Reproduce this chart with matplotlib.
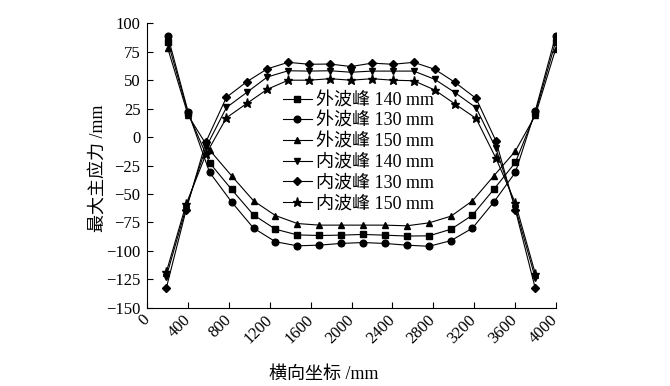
import matplotlib
matplotlib.use("Agg")
import matplotlib.pyplot as plt

plt.rcParams['font.family'] = ['Liberation Serif', 'Noto Sans CJK SC']
plt.rcParams['axes.unicode_minus'] = True

# Outer wave peak (外波峰) positions and values
x_outer = [200, 400, 610, 825, 1040, 1255, 1470, 1685, 1895, 2110, 2325, 2540,
           2760, 2975, 3185, 3395, 3605, 3800, 4000]
outer_140 = [84, 21, -22.6, -46, -68.4, -81, -86, -86.5, -86.2, -85.6, -86.2, -87,
             -86.8, -81, -68.6, -45.8, -22.3, 21, 84]
outer_130 = [89, 22, -31, -57, -80, -92, -95.6, -95, -93.5, -92.7, -93.5, -95,
             -96, -91, -80, -57, -31, 23, 89]
outer_150 = [78, 19, -11.4, -34, -56, -69, -76, -77.4, -77.4, -77.4, -77.4, -78,
             -75.4, -69.5, -56, -34, -12.3, 19, 77.5]

# Inner wave peak (内波峰) positions and values
x_inner = [185, 380, 575, 775, 975, 1175, 1380, 1585, 1790, 1995, 2200, 2405,
           2610, 2815, 3015, 3220, 3415, 3605, 3800]
inner_140 = [-123, -62, -9, 26, 39.3, 52.8, 58.3, 58, 58.3, 57, 58, 58,
             58, 50.8, 39, 25.8, -10, -62, -124]
inner_130 = [-133, -64, -4, 35, 48.7, 60, 65.7, 64, 64.2, 62, 65, 64,
             65.7, 59.6, 48, 34, -3.5, -64, -133]
inner_150 = [-119, -59, -15, 17, 29.6, 42, 50, 50, 51.3, 50, 51.3, 50,
             49.5, 41.4, 29, 16.4, -18.7, -58, -120]

labels = ['外波峰 140 mm', '外波峰 130 mm', '外波峰 150 mm',
          '内波峰 140 mm', '内波峰 130 mm', '内波峰 150 mm']
xticks = [0, 400, 800, 1200, 1600, 2000, 2400, 2800, 3200, 3600, 4000]
yticks = [100, 75, 50, 25, 0, -25, -50, -75, -100, -125, -150]

fig = plt.figure(figsize=(6.7, 3.86), dpi=100)
ax = fig.add_axes([0.2199, 0.2028, 0.6095, 0.7368])

series = [
    (x_outer, outer_140, 's', 4.2),
    (x_outer, outer_130, 'o', 4.8),
    (x_outer, outer_150, '^', 4.8),
    (x_inner, inner_140, 'v', 4.8),
    (x_inner, inner_130, 'D', 4.2),
    (x_inner, inner_150, '*', 6.5),
]
for (xs, ys, m, ms), lab in zip(series, labels):
    ax.plot(xs, ys, color='black', lw=0.8, marker=m, markersize=ms,
            markerfacecolor='black', markeredgecolor='black', label=lab)

ax.set_xlim(0, 4000)
ax.set_ylim(-150, 100)
ax.set_xticks(xticks)
ax.set_xticklabels([str(t) for t in xticks], rotation=45, ha='right',
                   va='center', rotation_mode='anchor')
ax.set_yticks(yticks)
ax.set_yticklabels([str(t).replace('-', '\u2212') for t in yticks])
ax.tick_params(direction='in', length=4, width=0.8, labelsize=12)
ax.tick_params(axis='x', pad=7)
ax.tick_params(axis='y', pad=5)
for s in ['top', 'right']:
    ax.spines[s].set_visible(False)
for s in ['left', 'bottom']:
    ax.spines[s].set_linewidth(0.8)

ax.set_xlabel('横向坐标 /mm', fontsize=13)
ax.xaxis.set_label_coords(0.433, -0.205)
ax.set_ylabel('最大主应力 /mm', fontsize=13)
ax.yaxis.set_label_coords(-0.10, 0.49)

leg = ax.legend(loc='upper left', bbox_to_anchor=(0.31, 0.79), frameon=False,
                fontsize=13, handlelength=1.6, handletextpad=0.25,
                labelspacing=0.2, borderpad=0)

fig.savefig('out.png', dpi=100)
